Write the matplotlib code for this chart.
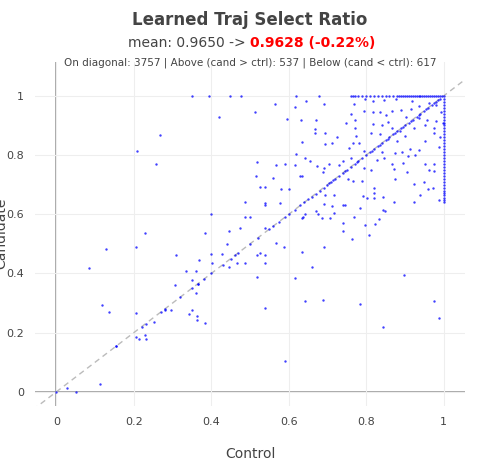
import matplotlib.pyplot as plt

# off-diagonal points (control, candidate)
ctrl_pts = [0.349, 0.395, 0.448, 0.477, 0.618, 0.677, 0.564, 0.644, 0.692, 0.421, 0.514, 0.616, 0.595, 0.632, 0.670,
            0.267, 0.208, 0.258, 0.518, 0.568, 0.591, 0.515, 0.560, 0.526, 0.540, 0.579, 0.601, 0.488, 0.539, 0.539,
            0.577, 0.400, 0.500, 0.488, 0.473, 0.539, 0.446, 0.385, 0.230, 0.129, 0.205, 0.399, 0.429, 0.462, 0.519,
            0.539, 0.527, 0.566, 0.589, 0.441, 0.402, 0.447, 0.467, 0.487, 0.310, 0.369, 0.084, 0.334, 0.360, 0.351,
            0.366, 0.307, 0.360, 0.518, 0.616, 0.659, 0.692, 0.633, 0.539, 0.118, 0.135, 0.206, 0.281, 0.296, 0.351,
            0.343, 0.362, 0.364, 0.385, 0.231, 0.251, 0.206, 0.214, 0.231, 0.228, 0.154, 0.114, 0.028, 0.052, 0.590,
            0.539, 0.641, 0.689, 0.784, 0.844, 0.897, 0.975, 0.989, 0.806, 0.796, 0.822, 0.834, 0.764, 0.740, 0.741,
            0.768, 0.783, 0.792, 0.803, 0.820, 0.843, 0.873, 0.923, 0.939, 0.960, 0.973, 0.988, 0.685, 0.706, 0.717,
            0.712, 0.691, 0.675, 0.717, 0.693, 0.739, 0.745, 0.642, 0.635, 0.637, 0.670, 0.753, 0.767, 0.790, 0.819,
            0.819, 0.843, 0.848, 0.794, 0.813, 0.828, 0.872, 0.867, 0.874, 0.894, 0.907, 0.925, 0.906, 0.952, 0.976,
            0.975, 0.963, 0.950, 0.924, 0.988, 0.991, 0.975, 0.953, 0.936, 0.912, 0.893, 0.874, 0.846, 0.840, 0.794,
            0.781, 0.771, 0.772, 0.760, 0.747, 0.768, 0.794, 0.818, 0.835, 0.851, 0.867, 0.891, 0.916, 0.937, 0.962,
            0.980, 0.992, 0.919, 0.876, 0.845, 0.817, 0.798, 0.818, 0.840, 0.857, 0.867, 0.886, 0.902, 0.935, 0.957,
            0.981, 0.997, 0.974, 0.951, 0.924, 0.901, 0.879, 0.835, 0.812, 0.774, 0.767, 0.755, 0.760, 0.740, 0.729,
            0.704, 0.692, 0.689, 0.674, 0.656, 0.634, 0.630, 0.668, 0.694, 0.694, 0.711, 0.724, 0.668, 0.641, 0.633,
            0.619, 0.616]
cand_pts = [1.000, 1.000, 1.000, 0.998, 1.000, 1.000, 0.971, 0.982, 0.974, 0.930, 0.946, 0.962, 0.922, 0.920, 0.919,
            0.867, 0.813, 0.771, 0.775, 0.766, 0.769, 0.728, 0.724, 0.691, 0.691, 0.684, 0.685, 0.642, 0.639, 0.631,
            0.639, 0.600, 0.592, 0.590, 0.555, 0.553, 0.544, 0.538, 0.538, 0.484, 0.488, 0.467, 0.465, 0.463, 0.464,
            0.462, 0.470, 0.503, 0.491, 0.500, 0.434, 0.421, 0.435, 0.436, 0.461, 0.447, 0.417, 0.410, 0.410, 0.379,
            0.365, 0.360, 0.335, 0.387, 0.384, 0.421, 0.488, 0.473, 0.434, 0.294, 0.271, 0.265, 0.278, 0.278, 0.275,
            0.263, 0.257, 0.243, 0.231, 0.230, 0.237, 0.184, 0.179, 0.180, 0.193, 0.154, 0.025, 0.013, 0.000, 0.103,
            0.282, 0.308, 0.311, 0.298, 0.218, 0.396, 0.308, 0.248, 0.529, 0.564, 0.566, 0.584, 0.515, 0.545, 0.572,
            0.590, 0.621, 0.662, 0.656, 0.655, 0.660, 0.640, 0.642, 0.665, 0.685, 0.688, 0.649, 0.588, 0.588, 0.603,
            0.629, 0.635, 0.601, 0.666, 0.666, 0.630, 0.630, 0.601, 0.588, 0.590, 0.612, 0.719, 0.713, 0.711, 0.688,
            0.672, 0.616, 0.612, 0.758, 0.748, 0.783, 0.753, 0.770, 0.718, 0.772, 0.796, 0.799, 0.744, 0.769, 0.769,
            0.745, 0.751, 0.708, 0.701, 0.826, 0.860, 0.874, 0.848, 0.817, 0.820, 0.810, 0.806, 0.789, 0.812, 0.813,
            0.842, 0.893, 0.919, 0.938, 0.910, 0.973, 0.948, 0.945, 0.947, 0.935, 0.949, 0.953, 0.957, 0.967, 0.976,
            0.970, 0.947, 0.983, 0.991, 0.987, 0.981, 0.990, 0.904, 0.903, 0.913, 0.893, 0.882, 0.927, 0.924, 0.918,
            0.916, 0.909, 0.893, 0.902, 0.893, 0.865, 0.848, 0.871, 0.873, 0.866, 0.842, 0.824, 0.790, 0.781, 0.767,
            0.769, 0.755, 0.744, 0.764, 0.781, 0.730, 0.730, 0.873, 0.873, 0.839, 0.842, 0.861, 0.889, 0.790, 0.845,
            0.804, 0.766]

# points sitting on the diagonal (candidate == control)
diag_vals = [0.0, 0.154, 0.22, 0.27, 0.28, 0.32, 0.35, 0.365, 0.38, 0.40, 0.43, 0.45, 0.47, 0.50, 0.52, 0.55, 0.56,
             0.575, 0.59, 0.60, 0.615, 0.63, 0.64, 0.65, 0.66, 0.67, 0.68, 0.69, 0.70, 0.705, 0.71, 0.715, 0.72,
             0.73, 0.74, 0.745, 0.75, 0.76, 0.77, 0.775, 0.78, 0.79, 0.80, 0.81, 0.815, 0.82, 0.83, 0.835, 0.84,
             0.85, 0.855, 0.86, 0.87, 0.875, 0.88, 0.89, 0.895, 0.90, 0.91, 0.915, 0.92, 0.93, 0.935, 0.94, 0.95,
             0.955, 0.96, 0.97, 0.975, 0.98, 0.985, 0.99, 1.0]

# candidate = 1 row (control values) and control = 1 column (candidate values)
top_row_ctrl = [0.76, 0.765, 0.77, 0.78, 0.79, 0.80, 0.81, 0.82, 0.83, 0.84, 0.85, 0.86, 0.87, 0.88, 0.885, 0.89,
                0.895, 0.90, 0.905, 0.91, 0.915, 0.92, 0.925, 0.93, 0.935, 0.94, 0.945, 0.95, 0.955, 0.96, 0.965,
                0.97, 0.975, 0.98, 0.985, 0.99, 0.995]
right_col_cand = [0.642, 0.648, 0.656, 0.664, 0.672, 0.68, 0.69, 0.70, 0.71, 0.72, 0.73, 0.74, 0.75, 0.76, 0.77,
                  0.78, 0.79, 0.80, 0.81, 0.82, 0.83, 0.84, 0.85, 0.86, 0.87, 0.88, 0.89, 0.90, 0.91, 0.92, 0.93,
                  0.94, 0.95, 0.96, 0.97, 0.98, 0.99]

TITLE = 'Learned Traj Select Ratio'
MEAN_CTRL = '0.9650'
MEAN_CAND = '0.9628 (-0.22%)'
COUNTS = 'On diagonal: 3757 | Above (cand > ctrl): 537 | Below (cand < ctrl): 617'

TEXT = '#444444'
POINT = '#0000ff'

xs = ctrl_pts + diag_vals + top_row_ctrl + [1.0] * len(right_col_cand)
ys = cand_pts + diag_vals + [1.0] * len(top_row_ctrl) + right_col_cand

fig = plt.figure(figsize=(5, 4.58), dpi=100)
ax = fig.add_axes([0.07, 0.114, 0.86, 0.751])
ax.set_xlim(-0.055, 1.055)
ax.set_ylim(-0.047, 1.115)

ax.plot([-0.1, 1.1], [-0.1, 1.1], ls=(0, (4, 3)), color='#bbbbbb', lw=1, zorder=1)
ax.axhline(0, color='#999999', lw=1.2, zorder=0)
ax.axvline(0, color='#999999', lw=1.2, zorder=0)
ax.scatter(xs, ys, s=3, color=POINT, alpha=0.75, linewidths=0, zorder=3)

ticks = [0, 0.2, 0.4, 0.6, 0.8, 1]
labels = ['0', '0.2', '0.4', '0.6', '0.8', '1']
ax.set_xticks(ticks, labels)
ax.set_yticks(ticks, labels)
ax.tick_params(length=0, labelsize=8, labelcolor=TEXT, pad=8)
ax.grid(color='#eeeeee', lw=0.8)
ax.set_axisbelow(True)
for s in ax.spines.values():
    s.set_visible(False)
ax.set_xlabel('Control', fontsize=10, color=TEXT)
ax.set_ylabel('Candidate', fontsize=10, color=TEXT)
ax.xaxis.set_label_coords(0.5, -0.12)
ax.yaxis.set_label_coords(-0.062, 0.5)

fig.text(0.5, 0.945, TITLE, ha='center', fontsize=12, fontweight='bold', color=TEXT)
fig.text(0.5, 0.897, 'mean: ' + MEAN_CTRL + ' -> ', ha='right', fontsize=10, color=TEXT)
fig.text(0.5, 0.897, MEAN_CAND, ha='left', fontsize=10, color='#ff0000', fontweight='bold')
fig.text(0.5, 0.857, COUNTS, ha='center', fontsize=7.5, color=TEXT)

fig.savefig('out.png', dpi=100)
